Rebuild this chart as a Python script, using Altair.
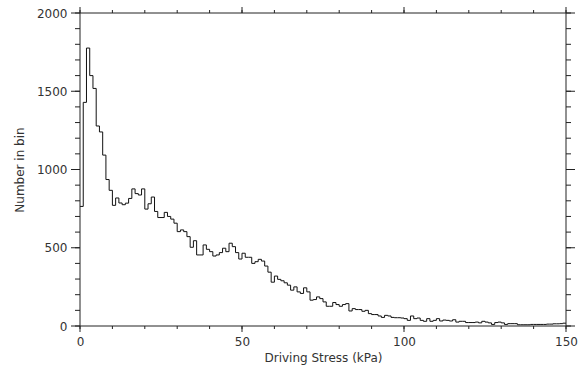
import altair as alt
import pandas as pd

# Histogram of driving stress, 1 kPa bins from 0 to 150 kPa
bin_left = list(range(0, 150))
counts = [
    764, 1429, 1776, 1600, 1518, 1278, 1240, 1092, 936, 867,
    771, 818, 786, 775, 785, 815, 876, 846, 837, 876,
    747, 781, 824, 732, 693, 693, 726, 700, 683, 657,
    603, 614, 603, 571, 503, 545, 454, 454, 518, 490,
    475, 447, 454, 469, 497, 475, 529, 507, 469, 428,
    465, 439, 439, 400, 411, 426, 415, 383, 344, 280,
    319, 298, 289, 276, 261, 229, 250, 218, 208, 244,
    218, 165, 169, 186, 175, 154, 126, 126, 150, 137,
    126, 137, 143, 96, 111, 105, 105, 94, 100, 79,
    73, 73, 64, 55, 68, 64, 55, 53, 53, 51,
    47, 36, 64, 47, 51, 36, 30, 47, 30, 36,
    47, 32, 38, 36, 32, 40, 25, 30, 30, 22,
    22, 22, 25, 20, 30, 25, 20, 10, 22, 25,
    20, 10, 15, 15, 15, 8, 8, 8, 8, 10,
    10, 10, 10, 10, 12, 12, 14, 14, 15, 18,
]
x_major = [0, 50, 100, 150]
x_minor = list(range(0, 151, 10))
y_major = [0, 500, 1000, 1500, 2000]
y_minor = list(range(0, 2001, 100))

edges = bin_left + [150]
vals = counts + [counts[-1]]
df = pd.DataFrame({"stress": edges, "count": vals})

FONT = "DejaVu Sans"
INK = "#222222"

# Frame (data box) size in pixels and the margin kept inside the view for outward ticks
BW, BH = 486, 313
MX, MY = 10, 7
W, H = BW + 2 * MX, BH + 2 * MY
x0, x1 = x_major[0], x_major[-1]
y0, y1 = y_major[0], y_major[-1]
dx = (x1 - x0) * MX / BW
dy = (y1 - y0) * MY / BH
xs = alt.Scale(domain=[x0 - dx, x1 + dx], nice=False, zero=False)
ys = alt.Scale(domain=[y0 - dy, y1 + dy], nice=False, zero=False)

common = dict(grid=False, domain=False, ticks=False,
              labelFlush=False, labelOverlap=False,
              labelColor="#333333", labelFont=FONT, labelFontSize=12,
              titleFont=FONT, titleFontSize=12, titleFontWeight="normal",
              titleColor="#333333")

hist = alt.Chart(df).mark_line(
    interpolate="step-after", color="#111111", strokeWidth=1
).encode(
    x=alt.X("stress:Q", scale=xs,
            axis=alt.Axis(values=x_major, labelPadding=3, title="Driving Stress (kPa)",
                          titlePadding=5, format="d", **common)),
    y=alt.Y("count:Q", scale=ys,
            axis=alt.Axis(values=y_major, labelPadding=3, title="Number in bin",
                          titlePadding=10, format="d", **common)),
)

# frame of the data box
vframe = alt.Chart(pd.DataFrame({"stress": [x0, x1], "count": [y0, y0], "top": [y1, y1]})).mark_rule(
    color=INK, strokeWidth=1).encode(
    x=alt.X("stress:Q", scale=xs), y=alt.Y("count:Q", scale=ys), y2="top:Q")
hframe = alt.Chart(pd.DataFrame({"stress": [x0, x0], "right": [x1, x1], "count": [y0, y1]})).mark_rule(
    color=INK, strokeWidth=1).encode(
    x=alt.X("stress:Q", scale=xs), x2="right:Q", y=alt.Y("count:Q", scale=ys))


def xticks(values, ya, yb):
    d = pd.DataFrame({"stress": values})
    return alt.Chart(d).mark_rule(color=INK, strokeWidth=1).encode(
        x=alt.X("stress:Q", scale=xs), y=alt.value(ya), y2=alt.value(yb))


def yticks(values, xa, xb):
    d = pd.DataFrame({"count": values})
    return alt.Chart(d).mark_rule(color=INK, strokeWidth=1).encode(
        y=alt.Y("count:Q", scale=ys), x=alt.value(xa), x2=alt.value(xb))


bottom = MY + BH
right = MX + BW
layers = [
    hist, vframe, hframe,
    xticks(x_major, bottom, bottom + 6), xticks(x_minor, bottom, bottom + 3),
    xticks(x_major, MY, MY - 6), xticks(x_minor, MY, MY - 3),
    yticks(y_major, MX, MX - 9), yticks(y_minor, MX, MX - 5),
    yticks(y_major, right, right + 9), yticks(y_minor, right, right + 5),
]

chart = alt.layer(*layers).properties(
    width=W, height=H,
    autosize=alt.AutoSizeParams(type="none"),
    padding={"left": 80 - MX, "top": 13 - MY, "right": 584 - (80 - MX) - W,
             "bottom": 377 - (13 - MY) - H},
    background="white",
).configure_view(strokeWidth=0)

chart.save("out.html", embed_options={"renderer": "svg", "actions": False})
